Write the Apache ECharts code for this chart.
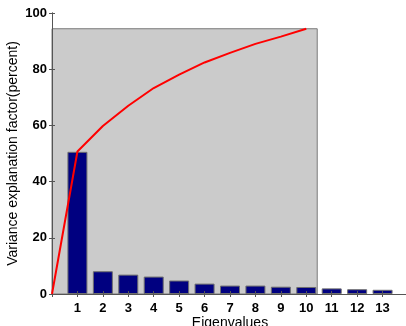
<!DOCTYPE html>
<html>
<head>
<meta charset="utf-8">
<script src="https://cdn.jsdelivr.net/npm/echarts@6/dist/echarts.min.js"></script>
<style>
  html, body { margin: 0; padding: 0; background: #fff; }
  #chart { width: 406px; height: 326px; }
</style>
</head>
<body>
<div id="chart"></div>
<script>
var eigenIdx = [1, 2, 3, 4, 5, 6, 7, 8, 9, 10, 11, 12, 13];
var varPct = [50.6, 8.1, 6.9, 6.2, 4.8, 3.7, 3.0, 3.0, 2.6, 2.5, 2.0, 1.7, 1.5];
var cumIdx = [0, 1, 2, 3, 4, 5, 6, 7, 8, 9, 10];
var cumPct = [0, 50.7, 59.8, 67.0, 73.3, 78.1, 82.4, 85.8, 89.0, 91.6, 94.4];
var shadeX = [0, 10.43];
var shadeY = [0, 94.4];
var yTicks = [0, 20, 40, 60, 80, 100];

var txt = { color: '#000', fontFamily: 'Liberation Sans, Arial', fontSize: 13, fontWeight: 'bold' };
var axLine = { lineStyle: { color: '#555', width: 1 } };

var chart = echarts.init(document.getElementById('chart'));
chart.setOption({
    backgroundColor: '#fff',
    animation: false,
    grid: { left: 52, top: 13, width: 356, height: 281, containLabel: false, outerBoundsMode: 'none' },
    xAxis: [{
        type: 'value', min: 0, max: 14, interval: 1, position: 'bottom',
        name: 'Eigenvalues', nameLocation: 'middle', nameGap: 22, nameMoveOverlap: false,
        nameTextStyle: { color: '#000', fontFamily: 'Liberation Sans, Arial', fontSize: 14 },
        axisLine: axLine, z: 3,
        axisTick: { inside: true, length: 3, lineStyle: { color: '#555' } },
        axisLabel: Object.assign({ margin: 8, formatter: function (v) {
            return eigenIdx.indexOf(v) >= 0 ? String(v) : '';
        } }, txt),
        splitLine: { show: false }
    }, {
        type: 'value', min: 0, max: 14, interval: 1, position: 'top',
        axisLine: axLine, z: 3,
        axisTick: { inside: true, length: 3, lineStyle: { color: '#555' } },
        axisLabel: { show: false },
        splitLine: { show: false }
    }],
    yAxis: [{
        type: 'value', min: 0, max: 100, interval: 20, position: 'left',
        name: 'Variance explanation factor(percent)', nameLocation: 'middle', nameGap: 32, nameMoveOverlap: false,
        nameTextStyle: { color: '#000', fontFamily: 'Liberation Sans, Arial', fontSize: 14 },
        axisLine: axLine, z: 3,
        axisTick: { inside: true, length: 3, lineStyle: { color: '#555' } },
        axisLabel: Object.assign({ margin: 5, formatter: function (v) {
            return yTicks.indexOf(v) >= 0 ? String(v) : '';
        } }, txt),
        splitLine: { show: false }
    }, {
        type: 'value', min: 0, max: 100, interval: 20, position: 'right',
        axisLine: axLine, z: 3,
        axisTick: { inside: true, length: 3, lineStyle: { color: '#555' } },
        axisLabel: { show: false },
        splitLine: { show: false }
    }],
    series: [{
        type: 'bar',
        xAxisIndex: 0, yAxisIndex: 0,
        barWidth: 20,
        data: eigenIdx.map(function (x, i) { return [x, varPct[i]]; }),
        itemStyle: { color: '#000080', borderColor: '#6f6f6f', borderWidth: 1 },
        markArea: {
            silent: true,
            itemStyle: { color: '#cbcbcb', borderColor: '#7a7a7a', borderWidth: 1 },
            data: [[{ coord: [shadeX[0], shadeY[0]] }, { coord: [shadeX[1], shadeY[1]] }]]
        }
    }, {
        type: 'line',
        xAxisIndex: 0, yAxisIndex: 0,
        z: 5,
        showSymbol: false,
        data: cumIdx.map(function (x, i) { return [x, cumPct[i]]; }),
        lineStyle: { color: '#ff0000', width: 2 }
    }]
});
window.addEventListener('resize', function () {
    chart.resize();
});
</script>
</body>
</html>
